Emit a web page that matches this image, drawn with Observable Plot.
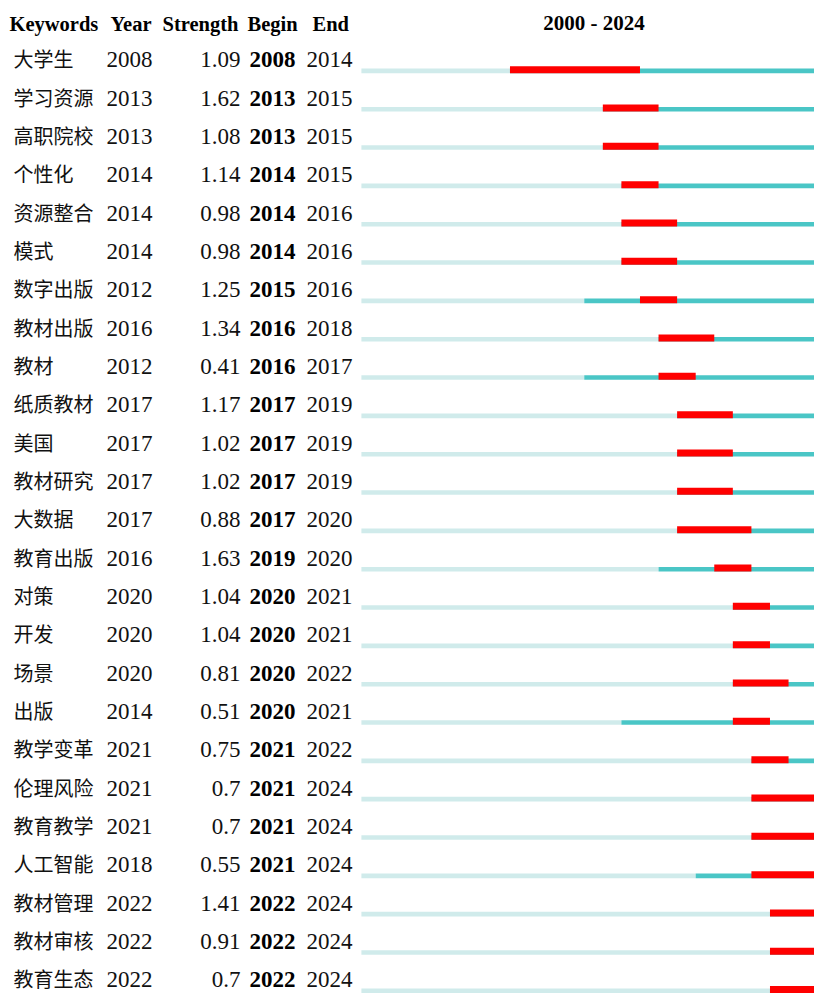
<!DOCTYPE html>
<html>
<head>
<meta charset="utf-8">
<script src="https://cdn.jsdelivr.net/npm/d3@7"></script>
<script src="https://cdn.jsdelivr.net/npm/@observablehq/plot@0.6"></script>
<style>
  html, body { margin: 0; padding: 0; background: #fff; overflow: hidden; }
  #chart svg { overflow: hidden; display: block; }
</style>
</head>
<body>
<div id="chart"></div>
<script>
const startYear = 2000;
const endYear = 2024;
const headers = ["Keywords", "Year", "Strength", "Begin", "End"];
const keywords = ["大学生","学习资源","高职院校","个性化","资源整合","模式","数字出版","教材出版","教材","纸质教材","美国","教材研究","大数据","教育出版","对策","开发","场景","出版","教学变革","伦理风险","教育教学","人工智能","教材管理","教材审核","教育生态"];
const years =     [2008,2013,2013,2014,2014,2014,2012,2016,2012,2017,2017,2017,2017,2016,2020,2020,2020,2014,2021,2021,2021,2018,2022,2022,2022];
const strengths = ["1.09","1.62","1.08","1.14","0.98","0.98","1.25","1.34","0.41","1.17","1.02","1.02","0.88","1.63","1.04","1.04","0.81","0.51","0.75","0.7","0.7","0.55","1.41","0.91","0.7"];
const begins =    [2008,2013,2013,2014,2014,2014,2015,2016,2016,2017,2017,2017,2017,2019,2020,2020,2020,2020,2021,2021,2021,2021,2022,2022,2022];
const ends =      [2014,2015,2015,2015,2016,2016,2016,2018,2017,2019,2019,2019,2020,2020,2021,2021,2022,2021,2022,2024,2024,2024,2024,2024,2024];

const rows = keywords.map((k, i) => ({
  keyword: k, year: years[i], strength: strengths[i], begin: begins[i], end: ends[i]
}));

const pitch = 38.33;
const firstRow = 72.7;
const serif = "'Liberation Serif', 'Times New Roman', serif";
const cjk = "'Noto Sans CJK SC', sans-serif";
const numSize = 23;
const numDy = -13.1;

const headerX = [9, 110, 162, 247, 312];

const chart = Plot.plot({
  width: 814,
  height: 993,
  margin: 0,
  x: { domain: [startYear, endYear + 1], range: [361.4, 825.7], axis: null },
  y: { type: "point", domain: keywords, range: [firstRow, firstRow + (keywords.length - 1) * pitch], padding: 0, round: false, axis: null },
  marks: [
    // headers
    ...headers.map((h, i) => Plot.text([h], {
      text: d => d, frameAnchor: "top-left", textAnchor: "start", lineAnchor: "top",
      dx: headerX[i], dy: 15.5, fontSize: 20.5, fontWeight: "bold", fontFamily: serif, fill: "#000"
    })),
    Plot.text([`${startYear} - ${endYear}`], {
      x: (startYear + endYear + 1) / 2, frameAnchor: "top", text: d => d, lineAnchor: "top",
      textAnchor: "middle", dy: 15, fontSize: 21, fontWeight: "bold", fontFamily: serif, fill: "#000"
    }),
    // bars
    Plot.ruleY(rows, { y: "keyword", x1: startYear, x2: "year", stroke: "#d0ebeb", strokeWidth: 4.6, dy: -2.3 }),
    Plot.ruleY(rows, { y: "keyword", x1: "year", x2: endYear + 1, stroke: "#4ac6c6", strokeWidth: 4.6, dy: -2.3 }),
    Plot.ruleY(rows, { y: "keyword", x1: "begin", x2: d => d.end + 1, stroke: "#ff0000", strokeWidth: 7, dy: -3.5 }),
    // table text
    Plot.text(rows, { y: "keyword", text: "keyword", frameAnchor: "left", textAnchor: "start", lineAnchor: "middle",
      dx: 13, dy: -12.2, fontSize: 20, fontFamily: cjk, fill: "#111" }),
    Plot.text(rows, { y: "keyword", text: d => String(d.year), frameAnchor: "left", textAnchor: "end", lineAnchor: "middle",
      dx: 152, dy: numDy, fontSize: numSize, fontFamily: serif, fill: "#111" }),
    Plot.text(rows, { y: "keyword", text: "strength", frameAnchor: "left", textAnchor: "end", lineAnchor: "middle",
      dx: 240, dy: numDy, fontSize: numSize, fontFamily: serif, fill: "#111" }),
    Plot.text(rows, { y: "keyword", text: d => String(d.begin), frameAnchor: "left", textAnchor: "end", lineAnchor: "middle",
      dx: 295, dy: numDy, fontSize: numSize, fontWeight: "bold", fontFamily: serif, fill: "#000" }),
    Plot.text(rows, { y: "keyword", text: d => String(d.end), frameAnchor: "left", textAnchor: "end", lineAnchor: "middle",
      dx: 352, dy: numDy, fontSize: numSize, fontFamily: serif, fill: "#111" })
  ]
});
document.getElementById("chart").append(chart);
</script>
</body>
</html>
